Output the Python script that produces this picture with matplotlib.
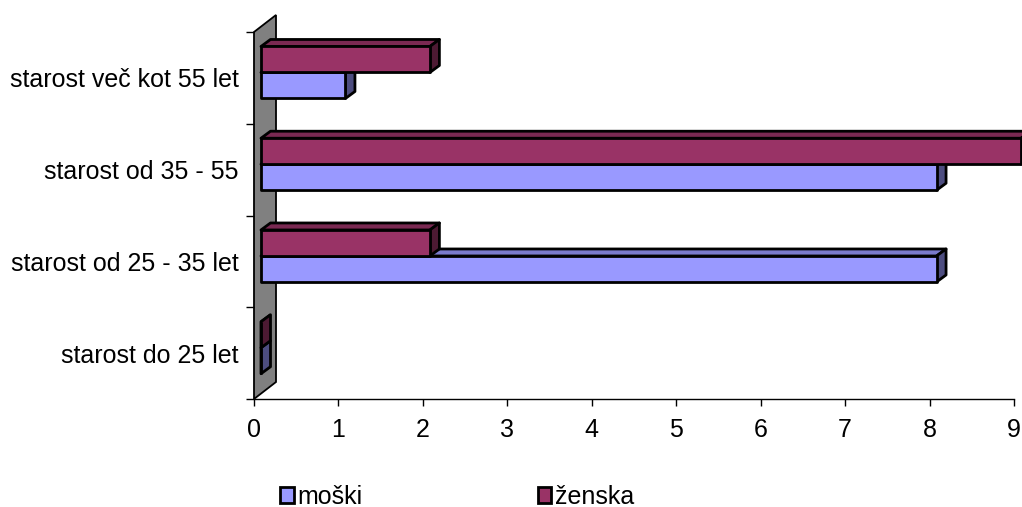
import matplotlib.pyplot as plt
from matplotlib.patches import Polygon, Patch
from matplotlib.colors import to_rgb

plt.rcParams['font.family'] = ['Liberation Sans', 'DejaVu Sans']

# Data (categories from bottom to top)
categories = ['starost do 25 let', 'starost od 25 - 35 let',
              'starost od 35 - 55', 'starost več kot 55 let']
moski = [0, 8, 8, 1]
zenska = [0, 2, 9, 2]
series_names = ['moški', 'ženska']
colors = ['#9999FF', '#993366']

fig = plt.figure(figsize=(10.22, 5.07), dpi=100)
ax = fig.add_axes([254 / 1022, 108 / 507, 760 / 1022, 367 / 507])
ax.set_xlim(0, 9)
ax.set_ylim(0, len(categories))

# pixel -> data helpers for the fake 3D depth
px_x = 760 / 9
px_y = 367 / len(categories)


def off(px, py):
    return px / px_x, py / px_y


wall_dx, wall_dy = off(22, 17)
bar_ox, bar_oy = off(7, 5.4)
dep_x, dep_y = off(9.5, 7)
bar_h = 26 / px_y
FS = 18


def shade(c, f):
    r, g, b = to_rgb(c)
    return (r * f, g * f, b * f)


# grey back wall
wall = Polygon([(0, 0), (wall_dx, wall_dy), (wall_dx, len(categories) + wall_dy),
                (0, len(categories))], closed=True, facecolor='#808080',
               edgecolor='black', lw=1.3, clip_on=False, zorder=1)
ax.add_patch(wall)


def bar3d(y0, value, color):
    x0 = bar_ox
    x1 = bar_ox + value
    y1 = y0 + bar_h
    kw = dict(edgecolor='black', lw=2.0, joinstyle='round', zorder=3)
    top = Polygon([(x0, y1), (x1, y1), (x1 + dep_x, y1 + dep_y), (x0 + dep_x, y1 + dep_y)],
                  facecolor=shade(color, 0.8), **kw)
    side = Polygon([(x1, y0), (x1, y1), (x1 + dep_x, y1 + dep_y), (x1 + dep_x, y0 + dep_y)],
                   facecolor=shade(color, 0.5), **kw)
    front = Polygon([(x0, y0), (x1, y0), (x1, y1), (x0, y1)],
                    facecolor=color, **kw)
    for p in (top, side, front):
        ax.add_patch(p)
        p.set_clip_box(None)


for i in range(len(categories)):
    c = i + 0.5
    bar3d(c - bar_h + bar_oy, moski[i], colors[0])
    bar3d(c + bar_oy, zenska[i], colors[1])

# axes styling
for s in ['top', 'right', 'left']:
    ax.spines[s].set_visible(False)
ax.spines['bottom'].set_color('black')
ax.spines['bottom'].set_linewidth(1.0)
ax.set_xticks(range(10))
ax.tick_params(axis='x', direction='out', length=5, width=1, labelsize=FS, pad=9)

ax.set_yticks([i + 0.5 for i in range(len(categories))])
ax.set_yticklabels(categories)
ax.set_yticks(range(len(categories) + 1), minor=True)
ax.tick_params(axis='y', which='major', length=0, labelsize=FS, pad=11)
ax.tick_params(axis='y', which='minor', direction='out', length=6, width=1)

handles = [Patch(facecolor=colors[0], edgecolor='black', lw=2.0),
           Patch(facecolor=colors[1], edgecolor='black', lw=2.0)]
fig.legend(handles, series_names, loc='center left', bbox_to_anchor=(280 / 1022, 1 - 497 / 507),
           ncol=2, frameon=False, fontsize=FS, handlelength=0.55, handleheight=0.6,
           handletextpad=0.15, columnspacing=7.0, borderaxespad=0, borderpad=0)

fig.savefig('out.png', dpi=100)
